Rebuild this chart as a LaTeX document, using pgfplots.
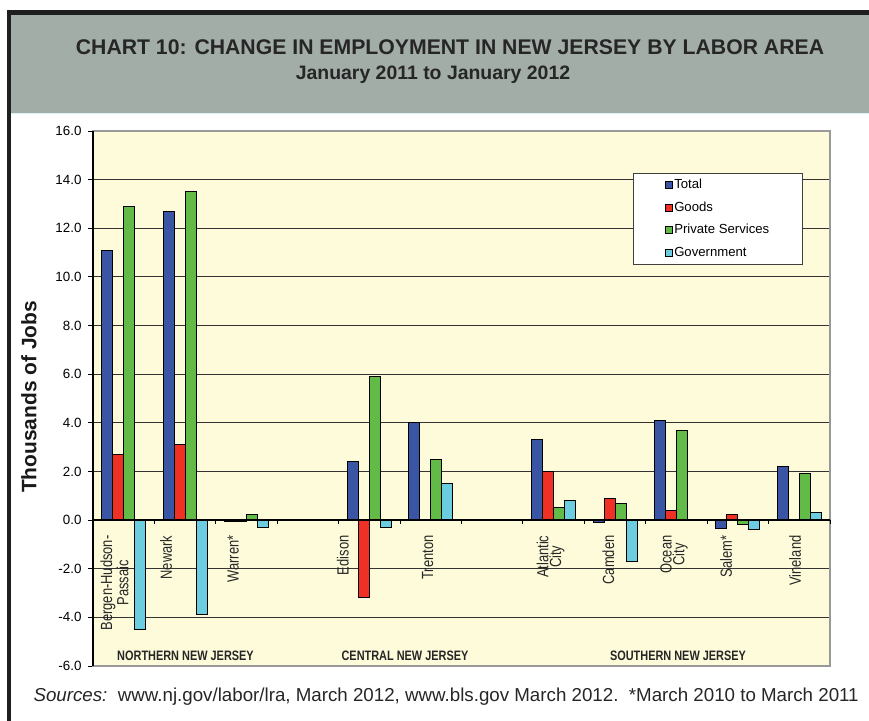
\documentclass[border=0pt]{standalone}
\usepackage{fontspec}
\setmainfont{Liberation Sans}
\newfontfamily\narrowfont[FakeStretch=0.8]{Liberation Sans}
\usepackage{pgfplots}
\pgfplotsset{compat=1.18}
\definecolor{cTotal}{HTML}{3A55A4}
\definecolor{cGoods}{HTML}{EE3124}
\definecolor{cPriv}{HTML}{63BB47}
\definecolor{cGov}{HTML}{6CCDE0}
\definecolor{bgy}{HTML}{FEFBDA}
\definecolor{hdr}{HTML}{A2ADA7}
\begin{document}
\begin{tikzpicture}[x=1bp,y=1bp]
\path[use as bounding box] (0,0) rectangle (869,721);
% header and frame
\fill[hdr] (11,607) rectangle (869,706);
\draw[cyan!15, line width=1bp] (11,607) -- (869,607);
\fill[black!88] (7,0) rectangle (11,711);
\fill[black!88] (7,706) rectangle (869,711);
\node[font=\bfseries\fontsize{21.3}{24}\selectfont, text=black!85] at (450,674) {CHART 10: CHANGE IN EMPLOYMENT IN NEW JERSEY BY LABOR AREA};
\node[font=\bfseries\fontsize{19.5}{22}\selectfont, text=black!85] at (433,646) {January 2011 to January 2012};
\node[font=\bfseries\fontsize{21}{24}\selectfont, rotate=90, text=black!90] at (29,324) {Thousands of Jobs};
\begin{axis}[
  at={(93bp,55bp)}, anchor=south west,
  scale only axis, width=737bp, height=535bp,
  xmin=-0.5, xmax=11.5, ymin=-6, ymax=16,
  xtick=\empty,
  ytick={-6,-4,...,16}, ytick pos=left,
  /pgf/number format/.cd, fixed, fixed zerofill, precision=1, assume math mode=true,
  /pgfplots/.cd,
  yticklabel style={font=\fontsize{13.4}{16}\selectfont, xshift=-3bp},
  tick align=outside, major tick length=5bp,
  tick style={black, line width=0.9bp},
  ymajorgrids, grid style={black!80, line width=0.9bp},
  axis background/.style={fill=bgy},
  axis line style={black!40, line width=1.2bp},
  ybar=0pt, bar width=11bp,
  legend image code/.code={\draw[#1, draw=black, line width=0.7bp] (0bp,-3.5bp) rectangle (7bp,3.5bp);},
  legend cell align=left,
  legend style={at={(0.7327,0.9215)}, anchor=north west, draw=black!75, line width=1.1bp, fill=white,
    font=\fontsize{13.2}{15}\selectfont, inner xsep=31bp, inner ysep=5.5bp, row sep=10.3bp,
    nodes={inner ysep=0pt, text height=9.5bp, text depth=2.7bp}},
  clip=false,
]
\addplot[draw=black, line width=0.9bp, fill=cTotal] coordinates {(0,11.1) (1,12.7) (2,-0.05) (4,2.4) (5,4.0) (7,3.3) (8,-0.1) (9,4.1) (10,-0.35) (11,2.2)};
\addplot[draw=black, line width=0.9bp, fill=cGoods] coordinates {(0,2.7) (1,3.1) (2,-0.04) (4,-3.2) (7,2.0) (8,0.9) (9,0.4) (10,0.23)};
\addplot[draw=black, line width=0.9bp, fill=cPriv] coordinates {(0,12.9) (1,13.5) (2,0.23) (4,5.9) (5,2.5) (7,0.5) (8,0.7) (9,3.7) (10,-0.2) (11,1.9)};
\addplot[draw=black, line width=0.9bp, fill=cGov] coordinates {(0,-4.5) (1,-3.9) (2,-0.32) (4,-0.3) (5,1.5) (7,0.8) (8,-1.7) (10,-0.4) (11,0.3)};
\legend{Total,Goods,Private Services,Government}
% zero line and category separators
\draw[black, line width=1.2bp] (axis cs:-0.5,0) -- (axis cs:11.5,0);
\pgfplotsinvokeforeach{0.5,1.5,2.5,3.5,4.5,5.5,6.5,7.5,8.5,9.5,10.5,11.5}{\draw[black, line width=0.9bp] (axis cs:#1,0) -- ([yshift=-4bp]axis cs:#1,0);}
\draw[black, line width=1.3bp] (axis cs:-0.5,-6) -- (axis cs:-0.5,16);
% category labels
\begin{scope}[every node/.style={rotate=90, anchor=east, align=center, font=\narrowfont\fontsize{16.2}{13}\selectfont, text=black!85}]
\node at ([yshift=-12bp]axis cs:-0.15,0) {Bergen-Hudson-\\Passaic};
\node at ([yshift=-12bp]axis cs:0.69,0) {Newark};
\node at ([yshift=-12bp]axis cs:1.78,0) {Warren*};
\node at ([yshift=-12bp]axis cs:3.57,0) {Edison};
\node at ([yshift=-12bp]axis cs:4.95,0) {Trenton};
\node at ([yshift=-12bp]axis cs:6.95,0) {Atlantic\\City};
\node at ([yshift=-12bp]axis cs:7.89,0) {Camden};
\node at ([yshift=-12bp]axis cs:8.96,0) {Ocean\\City};
\node at ([yshift=-12bp]axis cs:9.81,0) {Salem*};
\node at ([yshift=-12bp]axis cs:10.93,0) {Vineland};
\end{scope}
\end{axis}
% region labels
\begin{scope}[every node/.style={font=\narrowfont\bfseries\fontsize{13.7}{15}\selectfont, text=black!85}]
\node at (185.5,65) {NORTHERN NEW JERSEY};
\node at (405,65) {CENTRAL NEW JERSEY};
\node at (678,65) {SOUTHERN NEW JERSEY};
\end{scope}
\node[anchor=west, font=\fontsize{18.8}{22}\selectfont, text=black!85] at (30,24) {\textit{Sources:}\ \ www.nj.gov/labor/lra, March 2012, www.bls.gov March 2012.\ \ *March 2010 to March 2011};
\end{tikzpicture}
\end{document}
